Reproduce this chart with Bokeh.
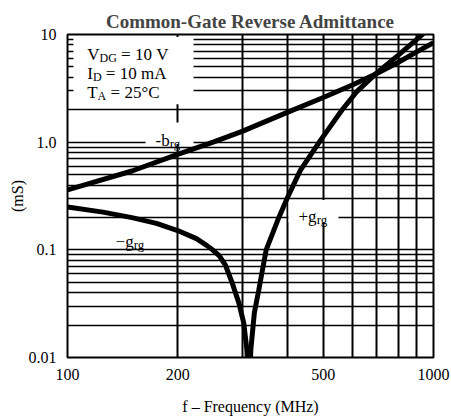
from bokeh.plotting import figure
from bokeh.models import Range1d, FixedTicker, Label, BoxAnnotation
from bokeh.embed import file_html
from bokeh.resources import INLINE

# ---- data ----
freq_b = [100, 150, 200, 250, 300, 400, 500, 600, 700, 800, 900, 1000]
b_rg_neg = [0.36, 0.54, 0.77, 1.0, 1.26, 1.9, 2.6, 3.4, 4.35, 5.5, 6.9, 8.4]

freq_gneg = [100, 125, 150, 175, 200, 225, 240, 250, 260, 270, 282, 294, 303, 309, 312]
g_rg_neg = [0.25, 0.224, 0.199, 0.176, 0.151, 0.127, 0.11, 0.099, 0.088, 0.072,
            0.049, 0.032, 0.021, 0.012, 0.006]

freq_gpos = [314, 317, 324, 333, 349, 378, 398, 433, 491, 563, 620, 700, 800, 900, 950]
g_rg_pos = [0.006, 0.012, 0.026, 0.042, 0.1, 0.2, 0.3, 0.55, 1.04, 2.0, 3.0, 4.4,
            6.4, 9.0, 10.6]

x_tick_values = [100, 200, 500, 1000]
x_tick_labels = ["100", "200", "500", "1000"]
y_tick_values = [0.01, 0.1, 1, 10]
y_tick_labels = ["0.01", "0.1", "1.0", "10"]
x_grid_values = [200, 300, 400, 500, 600, 700, 800, 900]
y_grid_values = [m * d for d in (0.01, 0.1, 1) for m in range(1, 10)][1:]

SERIF = "Liberation Serif"
NB = "\u00a0"

p = figure(x_axis_type="log", y_axis_type="log",
           x_range=Range1d(100, 1000), y_range=Range1d(0.01, 10),
           frame_width=366, frame_height=323,
           min_border_left=67, min_border_right=18,
           min_border_top=34, min_border_bottom=62,
           output_backend="svg", toolbar_location=None,
           title="Common-Gate Reverse Admittance")

p.background_fill_color = "white"
p.border_fill_color = "white"
p.outline_line_color = "black"
p.outline_line_width = 2

p.title.text_font = SERIF
p.title.text_font_size = "19px"
p.title.text_font_style = "bold"
p.title.align = "center"
p.title.standoff = 6

# axes
for ax in (p.xaxis[0], p.yaxis[0]):
    ax.axis_line_color = None
    ax.major_tick_line_color = None
    ax.minor_tick_line_color = None
    ax.major_tick_out = 0
    ax.major_tick_in = 0
    ax.major_label_text_font = SERIF
    ax.major_label_text_font_size = "16px"
    ax.major_label_text_color = "black"
    ax.axis_label_text_font = SERIF
    ax.axis_label_text_font_size = "16px"
    ax.axis_label_text_font_style = "normal"
    ax.axis_label_text_color = "black"

p.xaxis.ticker = FixedTicker(ticks=x_tick_values)
p.xaxis.major_label_overrides = dict(zip(x_tick_values, x_tick_labels))
p.xaxis.major_label_standoff = 11
p.xaxis.axis_label = "f \u2013 Frequency (MHz)"
p.xaxis.axis_label_standoff = 15

p.yaxis.ticker = FixedTicker(ticks=y_tick_values)
p.yaxis.major_label_overrides = dict(zip(y_tick_values, y_tick_labels))
p.yaxis.major_label_standoff = 11
p.yaxis.axis_label = "(mS)"
p.yaxis.axis_label_standoff = 0

# grid
p.xgrid.ticker = FixedTicker(ticks=x_grid_values)
p.ygrid.ticker = FixedTicker(ticks=y_grid_values)
p.xgrid.grid_line_color = "black"
p.ygrid.grid_line_color = "black"
p.xgrid.grid_line_width = 2
p.ygrid.grid_line_width = 1.7

# white masks behind the text blocks
masks = [
    dict(left=103.8, right=221, bottom=2.25, top=9.5),   # conditions box
    dict(left=163.4, right=221, bottom=0.96, top=1.52),  # -b_rg label
    dict(left=401.6, right=550, bottom=0.18, top=0.29),  # +g_rg label
]
for m in masks:
    p.add_layout(BoxAnnotation(fill_color="white", fill_alpha=1.0,
                               line_color=None, level="underlay", **m))

# curves
p.line(freq_b, b_rg_neg, line_color="black", line_width=5)
p.line(freq_gneg, g_rg_neg, line_color="black", line_width=5)
p.line(freq_gpos, g_rg_pos, line_color="black", line_width=5)


def add_text(x, y, text, size, dx=0, dy=0):
    p.add_layout(Label(x=x, y=y, x_offset=dx, y_offset=dy, text=text,
                       text_font=SERIF, text_font_size=size,
                       text_color="black", text_baseline="alphabetic",
                       text_align="left"))


MAIN = "17px"
SUB = "12px"
SUB2 = "13px"

# conditions
add_text(113.2, 6.48, "V", MAIN)
add_text(113.2, 6.48, "DG", SUB, dx=12.3, dy=-3.5)
add_text(113.2, 6.48, NB + "=" + NB + "10" + NB + "V", MAIN, dx=29.6)

add_text(113.2, 4.31, "I", MAIN)
add_text(113.2, 4.31, "D", SUB, dx=5.7, dy=-3.5)
add_text(113.2, 4.31, NB + "=" + NB + "10" + NB + "mA", MAIN, dx=14.4)

add_text(113.2, 2.91, "T", MAIN)
add_text(113.2, 2.91, "A", SUB, dx=10.4, dy=-3.5)
add_text(113.2, 2.91, NB + "=" + NB + "25\u00b0C", MAIN, dx=19.1)

# curve labels
add_text(174.0, 1.037, "-b", MAIN)
add_text(174.0, 1.037, "rg", SUB2, dx=14.2, dy=-3)

add_text(135.3, 0.1198, "\u2212g", MAIN)
add_text(135.3, 0.1198, "rg", SUB2, dx=18.1, dy=-3)

add_text(427.8, 0.204, "+g", MAIN)
add_text(427.8, 0.204, "rg", SUB2, dx=18.1, dy=-3)

open("out.html", "w").write(file_html(p, INLINE))
